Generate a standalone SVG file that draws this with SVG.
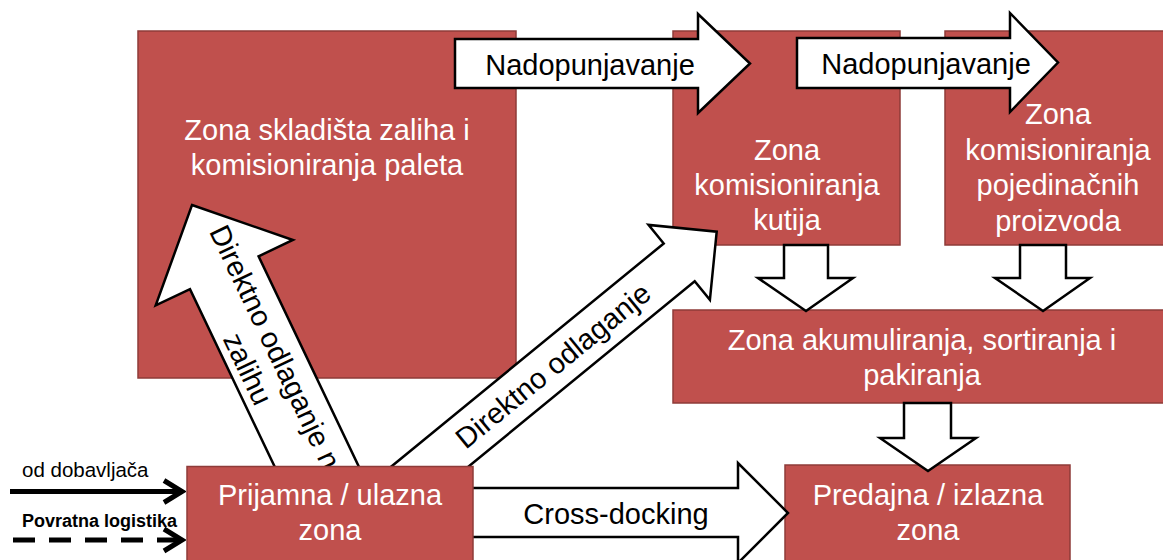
<svg xmlns="http://www.w3.org/2000/svg" width="1163" height="560" viewBox="0 0 1163 560">
  <defs>
    <style>
      .zone { fill: #C0504D; stroke: #8E3B39; stroke-width: 1.5; }
      .zt { font-family: "Liberation Sans", Arial, sans-serif; font-size: 29px; fill: #FFFFFF; text-anchor: middle; }
      .arr { fill: #FFFFFF; stroke: #000000; stroke-width: 2.5; stroke-linejoin: miter; }
      .at { font-family: "Liberation Sans", Arial, sans-serif; font-size: 29px; fill: #000000; text-anchor: middle; }
      .in { stroke: #000000; stroke-width: 5; fill: none; }
      .lbl { font-family: "Liberation Sans", Arial, sans-serif; fill: #000000; }
    </style>
    <marker id="chev" viewBox="0 0 26 30" refX="23" refY="15" markerWidth="26" markerHeight="30" markerUnits="userSpaceOnUse" orient="auto">
      <path d="M4,4 L22,15 L4,26" fill="none" stroke="#000000" stroke-width="5"/>
    </marker>
  </defs>

  <rect width="1163" height="560" fill="#FFFFFF"/>

  <g id="zona-skladista">
    <rect class="zone" x="138" y="31" width="378" height="347"/>
    <text class="zt" x="327" y="140">Zona skladišta zaliha i</text>
    <text class="zt" x="327" y="175">komisioniranja paleta</text>
  </g>

  <g id="zona-kutija">
    <rect class="zone" x="673" y="31" width="227" height="214"/>
    <text class="zt" x="787" y="160">Zona</text>
    <text class="zt" x="787" y="195">komisioniranja</text>
    <text class="zt" x="787" y="230">kutija</text>
  </g>

  <g id="zona-pojedinacnih">
    <rect class="zone" x="945" y="31" width="228" height="214"/>
    <text class="zt" x="1058" y="124">Zona</text>
    <text class="zt" x="1058" y="159.5">komisioniranja</text>
    <text class="zt" x="1058" y="195">pojedinačnih</text>
    <text class="zt" x="1058" y="230.5">proizvoda</text>
  </g>

  <g id="zona-akumuliranja">
    <rect class="zone" x="673" y="310" width="500" height="93"/>
    <text class="zt" x="922" y="350">Zona akumuliranja, sortiranja i</text>
    <text class="zt" x="922" y="385">pakiranja</text>
  </g>

  <g id="predajna-zona">
    <rect class="zone" x="785" y="465" width="285" height="110"/>
    <text class="zt" x="928" y="505">Predajna / izlazna</text>
    <text class="zt" x="928" y="540">zona</text>
  </g>

  <g id="connectors">
    <!-- Nadopunjavanje 1 -->
    <polygon class="arr" points="455,39 698,39 698,14 750,63.5 698,113 698,88 455,88"/>
    <text class="at" x="590" y="75">Nadopunjavanje</text>
    <!-- Nadopunjavanje 2 -->
    <polygon class="arr" points="797,38 1010,38 1010,13 1058,62.5 1010,112 1010,88 797,88"/>
    <text class="at" x="926" y="74">Nadopunjavanje</text>

    <!-- down arrows -->
    <polygon class="arr" points="784,245 828,245 828,278 853,278 806,311 758,278 784,278"/>
    <polygon class="arr" points="1020,245 1066,245 1066,278 1090,278 1043,311 995,278 1020,278"/>
    <polygon class="arr" points="904,403 951,403 951,438 976,438 928,471 880,438 904,438"/>

    <!-- Cross-docking -->
    <polygon class="arr" points="460,488 738,488 738,463 788,513 738,563 738,537 460,537"/>
    <text class="at" x="616" y="524">Cross-docking</text>

    <!-- Direktno odlaganje na zalihu -->
    <polygon class="arr" points="192,205 292.9,240 258.6,256.3 362.2,473.6 293.6,506.4 190,289.1 155.7,305.4"/>
    <g transform="translate(266,360.3) rotate(64.5)">
      <text class="at" x="0" y="-4" font-size="27">Direktno odlaganje na</text>
      <text class="at" x="0" y="30" font-size="27">zalihu</text>
    </g>

    <!-- Direktno odlaganje -->
    <polygon class="arr" points="716.7,231.7 709.9,299.9 694.7,281.3 400.7,522 369.7,484.2 663.7,243.5 648.5,224.9"/>
    <g transform="translate(553,365.7) rotate(-39.3)">
      <text class="at" x="0" y="10">Direktno odlaganje</text>
    </g>

    <!-- inbound -->
    <line class="in" x1="10" y1="491.5" x2="183" y2="491.5" marker-end="url(#chev)"/>
    <line class="in" x1="13" y1="540" x2="183" y2="540" stroke-dasharray="22 14" marker-end="url(#chev)"/>
    <text class="lbl" x="22" y="477" font-size="20.5">od dobavljača</text>
    <text class="lbl" x="22" y="527" font-size="18" font-weight="bold">Povratna logistika</text>
  </g>

  <g id="prijamna-zona">
    <rect class="zone" x="187" y="466.5" width="286" height="110"/>
    <text class="zt" x="330" y="505">Prijamna / ulazna</text>
    <text class="zt" x="330" y="540">zona</text>
  </g>
</svg>
